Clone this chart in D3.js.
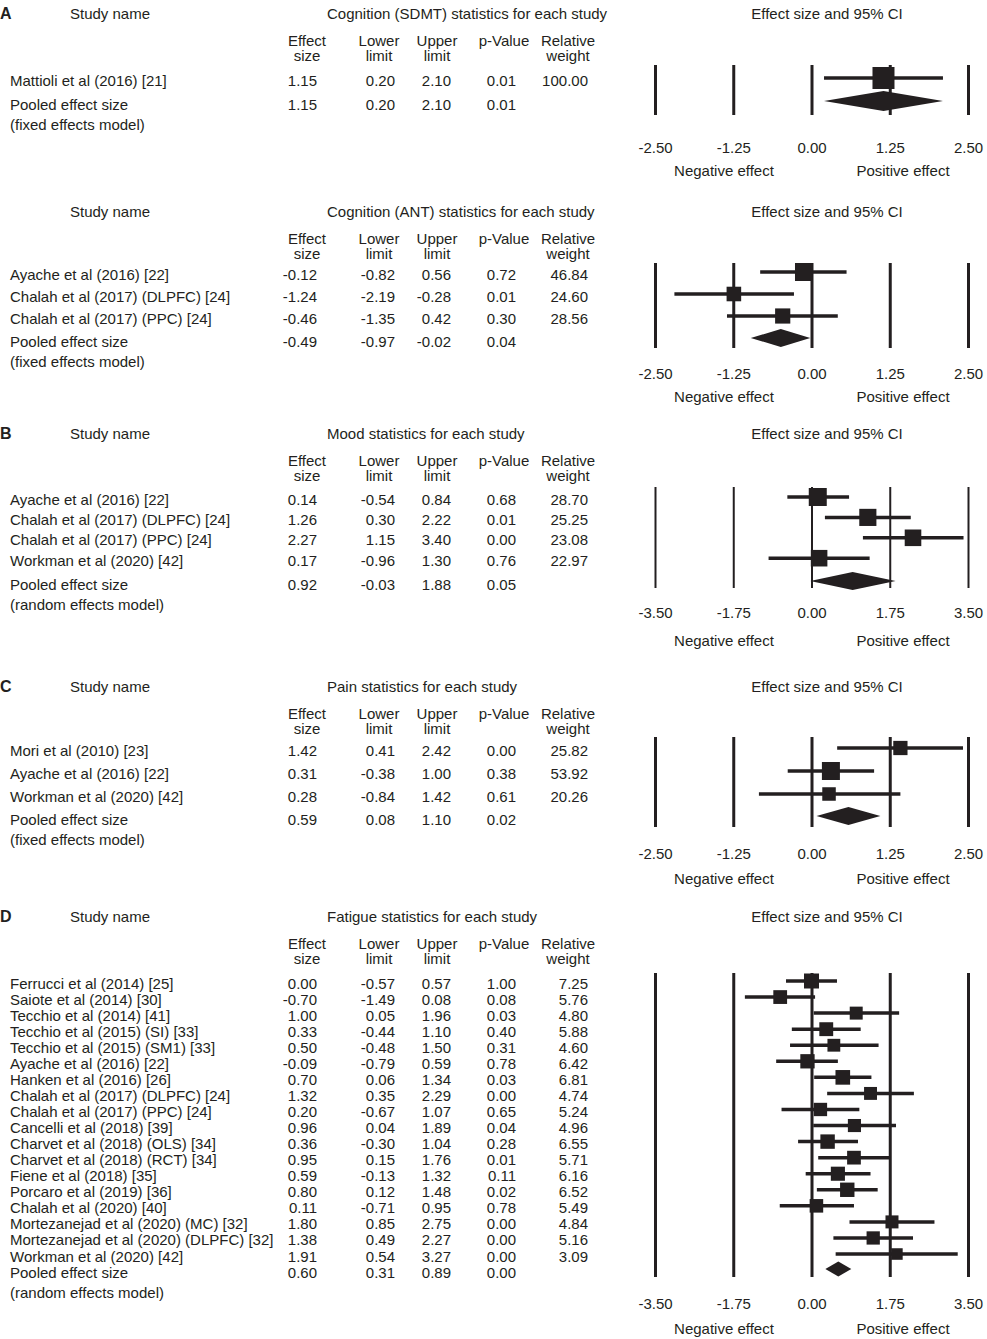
<!DOCTYPE html>
<html>
<head>
<meta charset="utf-8">
<script src="https://cdn.jsdelivr.net/npm/d3@7"></script>
<style>
  body { margin: 0; background: #fff; }
  svg text { font-family: "Liberation Sans", Arial, sans-serif; fill: #231f20; }
</style>
</head>
<body>
<div id="chart"></div>
<script>
// Panel A (top) - Cognition (SDMT)
var sdmtStudies = ["Mattioli et al (2016) [21]"];
var sdmtEffect = [1.15];
var sdmtLower = [0.20];
var sdmtUpper = [2.10];
var sdmtP = [0.01];
var sdmtWeight = [100.00];
var sdmtPooled = [1.15, 0.20, 2.10, 0.01];

// Panel A (bottom) - Cognition (ANT)
var antStudies = ["Ayache et al (2016) [22]", "Chalah et al (2017) (DLPFC) [24]", "Chalah et al (2017) (PPC) [24]"];
var antEffect = [-0.12, -1.24, -0.46];
var antLower = [-0.82, -2.19, -1.35];
var antUpper = [0.56, -0.28, 0.42];
var antP = [0.72, 0.01, 0.30];
var antWeight = [46.84, 24.60, 28.56];
var antPooled = [-0.49, -0.97, -0.02, 0.04];

// Panel B - Mood
var moodStudies = ["Ayache et al (2016) [22]", "Chalah et al (2017) (DLPFC) [24]", "Chalah et al (2017) (PPC) [24]", "Workman et al (2020) [42]"];
var moodEffect = [0.14, 1.26, 2.27, 0.17];
var moodLower = [-0.54, 0.30, 1.15, -0.96];
var moodUpper = [0.84, 2.22, 3.40, 1.30];
var moodP = [0.68, 0.01, 0.00, 0.76];
var moodWeight = [28.70, 25.25, 23.08, 22.97];
var moodPooled = [0.92, -0.03, 1.88, 0.05];

// Panel C - Pain
var painStudies = ["Mori et al (2010) [23]", "Ayache et al (2016) [22]", "Workman et al (2020) [42]"];
var painEffect = [1.42, 0.31, 0.28];
var painLower = [0.41, -0.38, -0.84];
var painUpper = [2.42, 1.00, 1.42];
var painP = [0.00, 0.38, 0.61];
var painWeight = [25.82, 53.92, 20.26];
var painPooled = [0.59, 0.08, 1.10, 0.02];

// Panel D - Fatigue
var fatigueStudies = [
  "Ferrucci et al (2014) [25]", "Saiote et al (2014) [30]", "Tecchio et al (2014) [41]",
  "Tecchio et al (2015) (SI) [33]", "Tecchio et al (2015) (SM1) [33]", "Ayache et al (2016) [22]",
  "Hanken et al (2016) [26]", "Chalah et al (2017) (DLPFC) [24]", "Chalah et al (2017) (PPC) [24]",
  "Cancelli et al (2018) [39]", "Charvet et al (2018) (OLS) [34]", "Charvet et al (2018) (RCT) [34]",
  "Fiene et al (2018) [35]", "Porcaro et al (2019) [36]", "Chalah et al (2020) [40]",
  "Mortezanejad et al (2020) (MC) [32]", "Mortezanejad et al (2020) (DLPFC) [32]", "Workman et al (2020) [42]"
];
var fatigueEffect = [0.00, -0.70, 1.00, 0.33, 0.50, -0.09, 0.70, 1.32, 0.20, 0.96, 0.36, 0.95, 0.59, 0.80, 0.11, 1.80, 1.38, 1.91];
var fatigueLower = [-0.57, -1.49, 0.05, -0.44, -0.48, -0.79, 0.06, 0.35, -0.67, 0.04, -0.30, 0.15, -0.13, 0.12, -0.71, 0.85, 0.49, 0.54];
var fatigueUpper = [0.57, 0.08, 1.96, 1.10, 1.50, 0.59, 1.34, 2.29, 1.07, 1.89, 1.04, 1.76, 1.32, 1.48, 0.95, 2.75, 2.27, 3.27];
var fatigueP = [1.00, 0.08, 0.03, 0.40, 0.31, 0.78, 0.03, 0.00, 0.65, 0.04, 0.28, 0.01, 0.11, 0.02, 0.78, 0.00, 0.00, 0.00];
var fatigueWeight = [7.25, 5.76, 4.80, 5.88, 4.60, 6.42, 6.81, 4.74, 5.24, 4.96, 6.55, 5.71, 6.16, 6.52, 5.49, 4.84, 5.16, 3.09];
var fatiguePooled = [0.60, 0.31, 0.89, 0.00];

var ticksNarrow = [-2.50, -1.25, 0.00, 1.25, 2.50];
var ticksWide = [-3.50, -1.75, 0.00, 1.75, 3.50];

var panels = [
  { letter: "A", title: "Cognition (SDMT) statistics for each study", model: "(fixed effects model)",
    studies: sdmtStudies, effect: sdmtEffect, lower: sdmtLower, upper: sdmtUpper, p: sdmtP, weight: sdmtWeight, pooled: sdmtPooled,
    ticks: ticksNarrow, top: 13, firstRow: 80, step: 22, pooledY: 104, lineTop: 65, lineBottom: 115, tickY: 147, effY: 170, maxSq: 22, dia: 10, lw: 3 },
  { letter: "", title: "Cognition (ANT) statistics for each study", model: "(fixed effects model)",
    studies: antStudies, effect: antEffect, lower: antLower, upper: antUpper, p: antP, weight: antWeight, pooled: antPooled,
    ticks: ticksNarrow, top: 211, firstRow: 274, step: 22, pooledY: 341, lineTop: 263, lineBottom: 348, tickY: 373, effY: 396, maxSq: 18, dia: 9, lw: 3 },
  { letter: "B", title: "Mood statistics for each study", model: "(random effects model)",
    studies: moodStudies, effect: moodEffect, lower: moodLower, upper: moodUpper, p: moodP, weight: moodWeight, pooled: moodPooled,
    ticks: ticksWide, top: 433, firstRow: 499, step: 20.4, pooledY: 584, lineTop: 487, lineBottom: 588, tickY: 612, effY: 640, maxSq: 18, dia: 9, lw: 2 },
  { letter: "C", title: "Pain statistics for each study", model: "(fixed effects model)",
    studies: painStudies, effect: painEffect, lower: painLower, upper: painUpper, p: painP, weight: painWeight, pooled: painPooled,
    ticks: ticksNarrow, top: 686, firstRow: 750, step: 23, pooledY: 819, lineTop: 737, lineBottom: 827, tickY: 853, effY: 878, maxSq: 18, dia: 9, lw: 3 },
  { letter: "D", title: "Fatigue statistics for each study", model: "(random effects model)",
    studies: fatigueStudies, effect: fatigueEffect, lower: fatigueLower, upper: fatigueUpper, p: fatigueP, weight: fatigueWeight, pooled: fatiguePooled,
    ticks: ticksWide, top: 916, firstRow: 983, step: 16.06, pooledY: 1272, lineTop: 973, lineBottom: 1277, tickY: 1303, effY: 1328, maxSq: 15, dia: 7.5, lw: 3 }
];

var svg = d3.select("#chart").append("svg")
  .attr("width", 987)
  .attr("height", 1339);

var fmt = function (v) { return v.toFixed(2); };
var ink = "#231f20";
var fs = 15;

// column positions (right edges for values, centers for headers)
var cols = [
  { head: ["Effect", "size"], cx: 307, right: 317 },
  { head: ["Lower", "limit"], cx: 379, right: 395 },
  { head: ["Upper", "limit"], cx: 437, right: 451 },
  { head: ["p-Value"], cx: 504, right: 516 },
  { head: ["Relative", "weight"], cx: 568, right: 588 }
];

panels.forEach(function (pn) {
  var g = svg.append("g");
  var base = function (c) { return c + 5.5; };

  if (pn.letter) {
    g.append("text").attr("x", 0).attr("y", base(pn.top))
      .attr("font-size", 16).attr("font-weight", "bold").text(pn.letter);
  }
  g.append("text").attr("x", 70).attr("y", base(pn.top)).attr("font-size", fs).text("Study name");
  g.append("text").attr("x", 327).attr("y", base(pn.top)).attr("font-size", fs).text(pn.title);
  g.append("text").attr("x", 827).attr("y", base(pn.top)).attr("font-size", fs)
    .attr("text-anchor", "middle").text("Effect size and 95% CI");

  cols.forEach(function (c) {
    c.head.forEach(function (h, i) {
      g.append("text").attr("x", c.cx).attr("y", base(pn.top + 27 + i * 15.5))
        .attr("font-size", fs).attr("text-anchor", "middle").text(h);
    });
  });

  var rowY = function (i) { return pn.firstRow + i * pn.step; };

  // table rows
  var rows = pn.studies.map(function (s, i) {
    return { name: s, vals: [pn.effect[i], pn.lower[i], pn.upper[i], pn.p[i], pn.weight[i]],
      es: pn.effect[i], lo: pn.lower[i], hi: pn.upper[i], w: pn.weight[i], y: rowY(i) };
  });

  rows.forEach(function (r) {
    g.append("text").attr("x", 10).attr("y", base(r.y)).attr("font-size", fs).text(r.name);
    r.vals.forEach(function (v, j) {
      g.append("text").attr("x", cols[j].right).attr("y", base(r.y))
        .attr("font-size", fs).attr("text-anchor", "end").text(fmt(v));
    });
  });

  g.append("text").attr("x", 10).attr("y", base(pn.pooledY)).attr("font-size", fs).text("Pooled effect size");
  g.append("text").attr("x", 10).attr("y", base(pn.pooledY + 20)).attr("font-size", fs).text(pn.model);
  pn.pooled.forEach(function (v, j) {
    g.append("text").attr("x", cols[j].right).attr("y", base(pn.pooledY))
      .attr("font-size", fs).attr("text-anchor", "end").text(fmt(v));
  });

  // forest plot
  var ext = pn.ticks[pn.ticks.length - 1];
  var x = d3.scaleLinear().domain([-ext, ext]).range([655, 968]);

  var axis = d3.axisBottom(x)
    .tickValues(pn.ticks)
    .tickSize(-(pn.lineBottom - pn.lineTop))
    .tickPadding(pn.tickY - pn.lineBottom - 5)
    .tickFormat(fmt);

  var ax = g.append("g")
    .attr("transform", "translate(0," + pn.lineBottom + ")")
    .call(axis);
  ax.select(".domain").remove();
  ax.selectAll("line").attr("stroke", ink).attr("stroke-width", pn.lw);
  ax.selectAll("text").attr("font-size", fs).attr("font-family", "Liberation Sans, Arial, sans-serif").attr("fill", ink);

  g.append("text").attr("x", 724).attr("y", base(pn.effY)).attr("font-size", fs)
    .attr("text-anchor", "middle").text("Negative effect");
  g.append("text").attr("x", 903).attr("y", base(pn.effY)).attr("font-size", fs)
    .attr("text-anchor", "middle").text("Positive effect");

  var maxW = d3.max(pn.weight);
  var sq = function (w) { return pn.maxSq * (0.6 + 0.4 * w / maxW); };

  g.selectAll(".ci").data(rows).enter().append("line")
    .attr("x1", function (d) { return x(d.lo); })
    .attr("x2", function (d) { return x(d.hi); })
    .attr("y1", function (d) { return d.y - 2; })
    .attr("y2", function (d) { return d.y - 2; })
    .attr("stroke", ink).attr("stroke-width", 3.5);

  g.selectAll(".sq").data(rows).enter().append("rect")
    .attr("x", function (d) { return x(d.es) - sq(d.w) / 2; })
    .attr("y", function (d) { return d.y - 2 - sq(d.w) / 2; })
    .attr("width", function (d) { return sq(d.w); })
    .attr("height", function (d) { return sq(d.w); })
    .attr("fill", ink);

  var py = pn.pooledY - 3;
  var pts = [[x(pn.pooled[1]), py], [x(pn.pooled[0]), py - pn.dia], [x(pn.pooled[2]), py], [x(pn.pooled[0]), py + pn.dia]];
  g.append("path").attr("d", d3.line()(pts) + "Z").attr("fill", ink);
});
</script>
</body>
</html>
